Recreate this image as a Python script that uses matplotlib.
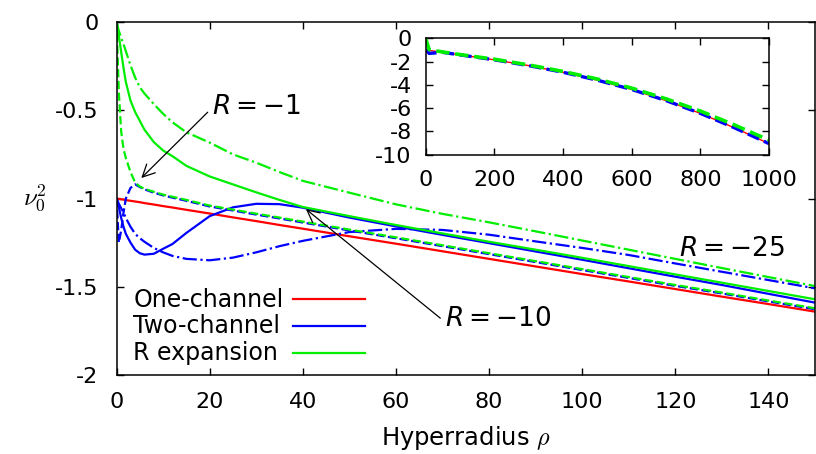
import numpy as np
import matplotlib
matplotlib.use("Agg")
import matplotlib.pyplot as plt
from matplotlib.ticker import FuncFormatter

plt.rcParams['font.family'] = ['DejaVu Sans']
plt.rcParams['axes.unicode_minus'] = False
plt.rcParams['mathtext.fontset'] = 'dejavusans'

# hyperradius grid used for the main panel curves
rho = [0, 0.5, 1, 1.5, 2, 3, 4, 5, 6, 8, 10, 12, 15, 20, 25, 30, 35, 40,
       50, 60, 70, 80, 90, 100, 110, 120, 130, 140, 150]

one_channel = [-1.0, -1.002, -1.004, -1.006, -1.009, -1.013, -1.017, -1.021, -1.026,
               -1.034, -1.043, -1.051, -1.064, -1.085, -1.107, -1.128, -1.15, -1.171,
               -1.214, -1.256, -1.299, -1.342, -1.385, -1.428, -1.47, -1.513, -1.556,
               -1.598, -1.641]

# R = -1 (dashed)
two_ch_r1 = [-1.0, -1.25, -1.18, -1.08, -1.0, -0.94, -0.92, -0.935, -0.948,
             -0.967, -0.982, -0.995, -1.013, -1.045, -1.068, -1.091, -1.113, -1.136,
             -1.181, -1.225, -1.27, -1.315, -1.36, -1.405, -1.45, -1.495, -1.538,
             -1.583, -1.627]
rexp_r1 = [0.0, -0.40, -0.62, -0.72, -0.77, -0.85, -0.91, -0.932, -0.945,
           -0.962, -0.978, -0.99, -1.008, -1.04, -1.063, -1.086, -1.108, -1.131,
           -1.176, -1.22, -1.265, -1.31, -1.355, -1.40, -1.445, -1.49, -1.533,
           -1.578, -1.622]

# R = -10 (solid)
two_ch_r10 = [-1.0, -1.05, -1.11, -1.16, -1.2, -1.25, -1.29, -1.31, -1.318,
              -1.313, -1.285, -1.258, -1.195, -1.10, -1.05, -1.03, -1.032, -1.052,
              -1.108, -1.158, -1.206, -1.253, -1.30, -1.347, -1.395, -1.443, -1.49,
              -1.54, -1.59]
rexp_r10 = [0.0, -0.08, -0.17, -0.26, -0.34, -0.445, -0.51, -0.56, -0.61,
            -0.68, -0.728, -0.76, -0.815, -0.875, -0.92, -0.965, -1.008, -1.048,
            -1.10, -1.15, -1.198, -1.245, -1.29, -1.336, -1.383, -1.43, -1.477,
            -1.524, -1.571]

# R = -25 (dash-dot)
two_ch_r25 = [-1.0, -1.03, -1.055, -1.08, -1.11, -1.16, -1.2, -1.225, -1.245,
              -1.28, -1.305, -1.325, -1.342, -1.35, -1.335, -1.305, -1.27, -1.24,
              -1.19, -1.172, -1.178, -1.205, -1.243, -1.28, -1.32, -1.368, -1.415,
              -1.462, -1.509]
rexp_r25 = [0.0, -0.05, -0.09, -0.125, -0.165, -0.245, -0.315, -0.37, -0.405,
            -0.465, -0.52, -0.568, -0.625, -0.683, -0.75, -0.797, -0.85, -0.9,
            -0.967, -1.033, -1.087, -1.135, -1.186, -1.238, -1.29, -1.342, -1.394,
            -1.445, -1.496]

# inset: long range behaviour
rho_in = [0, 10, 50, 100, 200, 300, 400, 500, 600, 700, 800, 900, 1000]
red_in = [-1.0, -1.04, -1.21, -1.43, -1.85, -2.35, -2.92, -3.6, -4.4, -5.35, -6.45, -7.7, -9.05]
blue_in = [-1.0, -1.3, -1.21, -1.43, -1.85, -2.35, -2.92, -3.6, -4.4, -5.35, -6.45, -7.7, -9.05]
green_in = [0.0, -0.98, -1.18, -1.40, -1.80, -2.29, -2.85, -3.5, -4.28, -5.2, -6.25, -7.45, -8.75]

labels = ['One-channel', 'Two-channel', 'R expansion']

RED = '#ff0000'
BLUE = '#0000ff'
GREEN = '#00ee00'
FS = 16


def style_axes(ax, pad_x, pad_y):
    ax.tick_params(direction='in', top=True, right=True, length=5, width=1.0,
                   labelsize=FS)
    ax.tick_params(axis='x', pad=pad_x)
    ax.tick_params(axis='y', pad=pad_y)
    for s in ax.spines.values():
        s.set_linewidth(1.1)
    ax.yaxis.set_major_formatter(FuncFormatter(lambda v, p: '%g' % v))


fig = plt.figure(figsize=(8.16, 4.54), dpi=100)
ax = fig.add_axes([0.1428, 0.1740, 0.8560, 0.7775])

lw = 1.6
ax.plot(rho, one_channel, color=RED, lw=lw)
ax.plot(rho, two_ch_r1, color=BLUE, lw=lw, ls='--')
ax.plot(rho, two_ch_r10, color=BLUE, lw=lw)
ax.plot(rho, two_ch_r25, color=BLUE, lw=lw, ls='-.')
ax.plot(rho, rexp_r1, color=GREEN, lw=lw, ls='--')
ax.plot(rho, rexp_r10, color=GREEN, lw=lw)
ax.plot(rho, rexp_r25, color=GREEN, lw=lw, ls='-.')

ax.set_xlim(0, 150)
ax.set_ylim(-2, 0)
ax.set_xticks(np.arange(0, 141, 20))
ax.set_yticks([0, -0.5, -1, -1.5, -2])
style_axes(ax, 12, 13)

ax.set_xlabel(r'Hyperradius $\rho$', fontsize=17.5, labelpad=9, math_fontfamily='cm')
ax.set_ylabel(r'$\nu_0^2$', fontsize=FS + 2, rotation=0, math_fontfamily='cm',
              ha='center', va='center')
ax.yaxis.set_label_coords(-0.117, 0.5)

# annotations
arrow = dict(arrowstyle='->', color='black', lw=0.9, mutation_scale=22)
ax.annotate('', xy=(4.9, -0.895), xytext=(20.0, -0.5), arrowprops=arrow)
ax.text(20.5, -0.48, r'$R=-1$', fontsize=19, va='center', ha='left')
ax.annotate('', xy=(40.2, -1.05), xytext=(70.0, -1.688), arrowprops=arrow)
ax.text(70.5, -1.68, r'$R=-10$', fontsize=19, va='center', ha='left')
ax.text(120.7, -1.286, r'$R=-25$', fontsize=19, va='center', ha='left')

# key, gnuplot style: text left, sample line right
key_y_text = [0.1935, 0.1176, 0.0416]
key_y_line = [0.2153, 0.1397, 0.0632]
for lab, col, yt, yl in zip(labels, [RED, BLUE, GREEN], key_y_text, key_y_line):
    ax.text(0.024, yt, lab, transform=ax.transAxes, fontsize=17, va='baseline', ha='left')
    ax.plot([0.2523, 0.3558], [yl, yl], transform=ax.transAxes, color=col, lw=lw)

# inset
axi = fig.add_axes([0.5217, 0.6593, 0.4207, 0.2564])
axi.plot(rho_in, red_in, color=RED, lw=1.0)
axi.plot(rho_in, blue_in, color=BLUE, lw=2.4, ls='--')
axi.plot(rho_in, green_in, color=GREEN, lw=2.6, ls='--')
axi.set_xlim(0, 1000)
axi.set_ylim(-10, 0)
axi.set_xticks(np.arange(0, 1001, 200))
axi.set_yticks(np.arange(-10, 1, 2))
style_axes(axi, 11, 10)

fig.savefig('out.png', dpi=100)
